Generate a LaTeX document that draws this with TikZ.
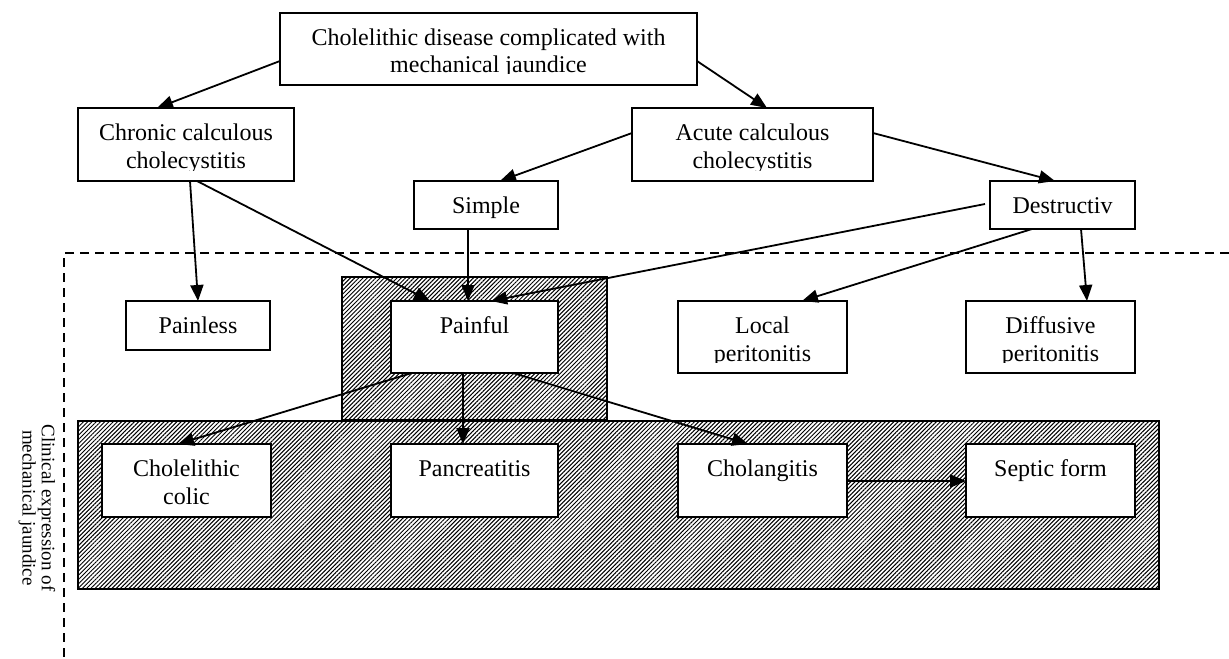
\documentclass[tikz,border=0pt]{standalone}
\usepackage{fontspec}
\setmainfont{Liberation Serif}
\usetikzlibrary{arrows.meta,patterns.meta,fit,calc}
\tikzset{
  boxst/.style={draw, line width=1pt, fill=white, inner sep=0pt, outer sep=0pt},
  lbl/.style={inner sep=0pt, align=center, anchor=north, font=\fontsize{12}{13.8}\selectfont},
  arr/.style={line width=0.9pt, -{Triangle[length=8pt,width=6.5pt]}},
  hatch/.style={draw, line width=1pt, pattern={Lines[angle=45,distance=1.5pt,line width=0.5pt]}, pattern color=black},
  border/.style={line width=0.9pt, dash pattern=on 4.5pt off 3pt},
  sidetext/.style={rotate=-90, align=center, inner sep=0pt, font=\fontsize{9.5}{8.5}\selectfont},
}
% box with top-aligned text, clipped above the inner bottom margin
\newcommand\flowbox[6]{%
  \coordinate (#1-a) at (#2,#3);
  \coordinate (#1-b) at (#4,#5);
  \node[boxst, fit=(#1-a)(#1-b)] (#1) {};
  \begin{scope}
    \clip (#2,#3) rectangle (#4,{#5-11});
    \node[lbl] (#1-t) at ({(#2+#4)/2},{#3+12}) {\rule{0pt}{10pt}#6};
  \end{scope}
}
\begin{document}
\begin{tikzpicture}[x=0.5pt,y=-0.5pt]
\useasboundingbox (0,0) rectangle (1229,658);

% hatched areas
\path[hatch] (342,277) rectangle (607,420);
\path[hatch] (78,421) rectangle (1159,589);

% dashed frame of the clinical part
\draw[border] (1229,253) -- (64,253) -- (64,658);

% boxes
\flowbox{top}{280}{13}{697}{85}{Cholelithic disease complicated with\\mechanical jaundice}
\flowbox{chronic}{78}{108}{294}{181}{Chronic calculous\\cholecystitis}
\flowbox{acute}{632}{108}{873}{181}{Acute calculous\\cholecystitis}
\flowbox{simple}{414}{181}{558}{229}{Simple}
\flowbox{destr}{990}{181}{1135}{229}{Destructiv}
\flowbox{painless}{126}{301}{270}{350}{Painless}
\flowbox{painful}{391}{301}{558}{373}{Painful}
\flowbox{local}{678}{301}{847}{373}{Local\\peritonitis}
\flowbox{diff}{966}{301}{1135}{373}{Diffusive\\peritonitis}
\flowbox{colic}{102}{444}{271}{517}{Cholelithic\\colic}
\flowbox{panc}{391}{444}{558}{517}{Pancreatitis}
\flowbox{chol}{678}{444}{847}{517}{Cholangitis}
\flowbox{septic}{966}{444}{1135}{517}{Septic form}

% connectors
\draw[arr] ($(top.north west)+(0,48)$) -- ($(chronic.north west)+(79,0)$);
\draw[arr] ($(top.north east)+(0,48)$) -- ($(acute.north west)+(135,0)$);
\draw[arr] ($(acute.north west)+(0,25)$) -- ($(simple.north west)+(86,0)$);
\draw[arr] ($(acute.north east)+(0,25)$) -- ($(destr.north west)+(65,0)$);
\draw[arr] ($(destr.north west)+(-5,23)$) -- ($(painful.north west)+(100,0)$);
\draw[arr] ($(destr.south west)+(42,0)$) -- ($(local.north west)+(124,0)$);
\draw[arr] ($(destr.south west)+(91,0)$) -- ($(diff.north west)+(121,0)$);
\draw[arr] ($(chronic.south west)+(112,0)$) -- (painless.north);
\draw[arr] ($(chronic.south west)+(119,0)$) -- ($(painful.north west)+(39,0)$);
\draw[arr] ($(simple.south west)+(54,0)$) -- ($(painful.north west)+(77,0)$);
\draw[arr] ($(painful.south west)+(21,0)$) -- ($(colic.north west)+(76,0)$);
\draw[arr] ($(painful.south west)+(72,0)$) -- ($(panc.north west)+(72,0)$);
\draw[arr] ($(painful.south west)+(122,0)$) -- ($(chol.north west)+(70,0)$);
\draw[arr] ($(chol.north east)+(0,37)$) -- ($(septic.north west)+(0,37)$);

% side caption
\node[sidetext] (side) at (37,508) {Clinical expression of\\mechanical jaundice};
\end{tikzpicture}
\end{document}
